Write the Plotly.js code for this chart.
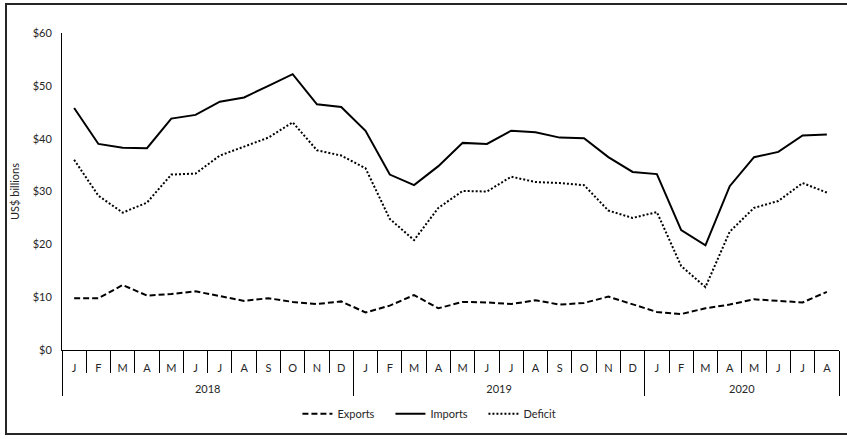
<!DOCTYPE html>
<html>
<head>
<meta charset="utf-8">
<script src="https://cdn.plot.ly/plotly-3.0.1.min.js"></script>
<style>
html,body{margin:0;padding:0;background:#fff;}
#chart{width:847px;height:439px;position:relative;}
#frame{position:absolute;left:5px;top:3px;width:860px;height:432px;border:2px solid #262626;pointer-events:none;box-sizing:border-box;}
</style>
</head>
<body>
<div id="chart"></div>
<div id="frame"></div>
<script>
const years = ['2018','2018','2018','2018','2018','2018','2018','2018','2018','2018','2018','2018',
               '2019','2019','2019','2019','2019','2019','2019','2019','2019','2019','2019','2019',
               '2020','2020','2020','2020','2020','2020','2020','2020'];
const months = ['J','F','M','A','M','J','J','A','S','O','N','D',
                'J','F','M','A','M','J','J','A','S','O','N','D',
                'J','F','M','A','M','J','J','A'];
const exportsVals = [9.8,9.8,12.3,10.3,10.6,11.1,10.2,9.3,9.8,9.1,8.7,9.2,
                     7.1,8.4,10.4,7.9,9.1,9.0,8.7,9.4,8.6,8.9,10.1,8.7,
                     7.2,6.8,7.9,8.6,9.6,9.3,9.0,11.0];
const importsVals = [45.8,39.0,38.3,38.2,43.8,44.5,47.0,47.8,50.0,52.2,46.5,46.0,
                     41.5,33.2,31.2,34.8,39.2,39.0,41.5,41.2,40.2,40.1,36.5,33.7,
                     33.3,22.7,19.8,31.0,36.5,37.5,40.6,40.8];
const deficitVals = [36.0,29.2,26.0,27.9,33.2,33.4,36.8,38.5,40.2,43.1,37.8,36.8,
                     34.4,24.8,20.8,26.9,30.1,30.0,32.8,31.8,31.6,31.2,26.4,25.0,
                     26.1,15.9,11.9,22.4,26.9,28.2,31.6,29.8];
const yTickVals = [0,10,20,30,40,50,60];
const yTickText = ['$0','$10','$20','$30','$40','$50','$60'];

// positions derived from the category arrays
const n = months.length;
const idx = months.map((_, i) => i);
const monthBounds = [];
for (let i = 0; i <= n; i++) monthBounds.push(i - 0.5);
const yearBounds = [-0.5], yearCenters = [], yearNames = [];
let start = 0;
for (let i = 1; i <= n; i++) {
  if (i === n || years[i] !== years[i - 1]) {
    yearBounds.push(i - 0.5);
    yearCenters.push((start + i - 1) / 2);
    yearNames.push(years[start]);
    start = i;
  }
}
const xr = [-0.5, n - 0.5];

const traces = [
  {x:idx, y:exportsVals, name:'Exports', type:'scatter', mode:'lines',
   line:{color:'#000', width:2, dash:'6px,3px'}},
  {x:idx, y:importsVals, name:'Imports', type:'scatter', mode:'lines',
   line:{color:'#000', width:2, dash:'solid'}},
  {x:idx, y:deficitVals, name:'Deficit', type:'scatter', mode:'lines',
   line:{color:'#000', width:2, dash:'2px,2px'}}
];
const tf = {size:11, color:'#262626'};
const base = {range:xr, showgrid:false, zeroline:false, fixedrange:true, tickmode:'array'};
const layout = {
  width:847, height:439,
  margin:{l:62, r:8, t:33, b:89},
  paper_bgcolor:'#fff', plot_bgcolor:'#fff',
  font:{family:'Lato, "Liberation Sans", sans-serif', size:11, color:'#262626'},
  showlegend:true,
  legend:{orientation:'h', x:0.303, xanchor:'left', y:-0.155, yanchor:'top',
          font:tf, entrywidth:48, entrywidthmode:'pixels', tracegroupgap:0},
  xaxis:Object.assign({}, base, {tickvals:idx, ticktext:months, ticks:'',
         showline:true, linecolor:'#000', linewidth:1, ticklabelstandoff:8, tickfont:tf}),
  xaxis2:Object.assign({}, base, {overlaying:'x', anchor:'y', side:'bottom',
         tickvals:monthBounds, ticktext:monthBounds.map(() => ''), ticks:'outside',
         ticklen:22, tickcolor:'#000', tickwidth:1, showline:false}),
  xaxis3:Object.assign({}, base, {overlaying:'x', anchor:'y', side:'bottom',
         tickvals:yearBounds, ticktext:yearBounds.map(() => ''), ticks:'outside',
         ticklen:45, tickcolor:'#000', tickwidth:1, showline:false}),
  xaxis4:Object.assign({}, base, {overlaying:'x', anchor:'y', side:'bottom',
         tickvals:yearCenters, ticktext:yearNames, ticks:'', showline:false,
         ticklabelstandoff:31, tickfont:tf}),
  yaxis:{range:[0,60], tickvals:yTickVals, ticktext:yTickText, tickmode:'array', showline:true,
         linecolor:'#000', linewidth:1, ticks:'', showgrid:false, zeroline:false,
         ticklabelstandoff:7,
         title:{text:'US$ billions', font:tf, standoff:10},
         tickfont:tf, fixedrange:true}
};
// dummy traces to activate the overlay axes
['x2','x3','x4'].forEach(ax => traces.push({x:[xr[0]], y:[null], xaxis:ax, yaxis:'y',
  type:'scatter', mode:'lines', showlegend:false, hoverinfo:'skip'}));
Plotly.newPlot('chart', traces, layout, {displayModeBar:false, staticPlot:true});
</script>
</body>
</html>
